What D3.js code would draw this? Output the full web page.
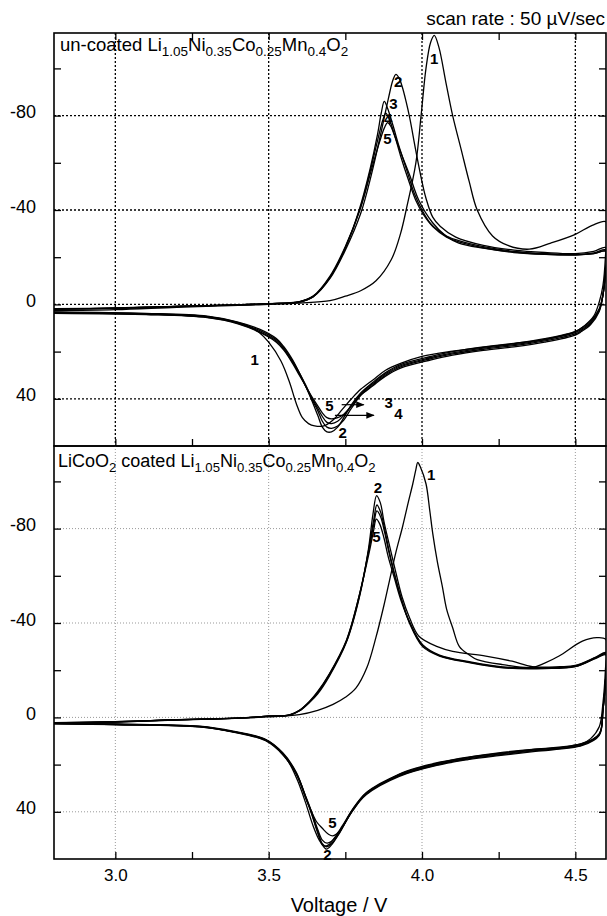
<!DOCTYPE html>
<html lang="en">
<head>
<meta charset="UTF-8" />
<title>Cyclic voltammograms</title>
<script src="https://cdn.jsdelivr.net/npm/d3@7"></script>
<style>
    html, body { margin: 0; background: #fff; }
    svg { display: block; font-family: "Liberation Sans", Arial, sans-serif; }
</style>
</head>
<body>
<div id="chart"></div>
<script>
// ---- data (voltage V, current) ----
const xTicks = [3.0, 3.25, 3.5, 3.75, 4.0, 4.25, 4.5];
const xLabels = [3.0, 3.5, 4.0, 4.5];
const yTicks = [-100, -80, -60, -40, -20, 0, 20, 40];
const yLabels = [-80, -40, 0, 40];

// un-coated panel
const top1 = [[2.8,2.6],[3.0,2.2],[3.2,1.2],[3.4,0.4],[3.5,0],[3.6,-0.6],[3.7,-1.6],[3.75,-3.5],[3.8,-5.8],[3.85,-10],[3.9,-19],[3.93,-30],[3.95,-41],[3.98,-60],[3.997,-80],[4.013,-100],[4.028,-111],[4.04,-114],[4.055,-109],[4.078,-94],[4.1,-80],[4.127,-66],[4.154,-52],[4.18,-40],[4.23,-29],[4.28,-25],[4.35,-23.4],[4.42,-26],[4.5,-29.7],[4.555,-33.5],[4.6,-35],
  [4.598,-20],[4.59,-8],[4.578,-1],[4.56,5],[4.53,9],[4.5,11.5],[4.4,14.8],[4.3,16.6],[4.2,18.2],[4.1,19.8],[4.0,22],[3.93,25],[3.88,28],[3.84,32],[3.8,36],[3.77,40],[3.74,44.5],[3.71,49],[3.68,51.5],[3.65,51.5],[3.63,50.5],[3.61,48],[3.59,42],[3.568,33],[3.54,24],[3.5,16],[3.47,12],[3.43,9],[3.38,7],[3.3,5.2],[3.2,4.5],[3.0,3.8],[2.8,3.4]];
const top2 = [[2.8,1.8],[3.0,1.5],[3.2,0.8],[3.4,0.2],[3.5,-0.3],[3.6,-1.0],[3.645,-3.2],[3.7,-11],[3.75,-23],[3.8,-38.5],[3.835,-55],[3.865,-72],[3.89,-87],[3.905,-95],[3.915,-97.5],[3.925,-96],[3.936,-92],[3.948,-86],[3.96,-79],[3.98,-65],[4.0,-52],[4.013,-45],[4.035,-37],[4.06,-33],[4.11,-28.5],[4.2,-25],[4.3,-23],[4.4,-22],[4.5,-21.5],[4.56,-22.5],[4.6,-24],
  [4.597,-12],[4.59,-4],[4.578,2],[4.55,7],[4.52,10],[4.5,11.5],[4.4,14.5],[4.3,16.5],[4.2,18],[4.1,20],[4.03,22],[3.93,25.5],[3.88,29],[3.84,33],[3.8,37.5],[3.77,42.5],[3.745,48],[3.725,52],[3.705,54],[3.69,54],[3.675,52],[3.66,47],[3.64,40.5],[3.62,34.5],[3.6,29],[3.578,23.5],[3.55,18],[3.525,14.5],[3.47,10.5],[3.4,7.5],[3.3,5],[3.1,3.8],[2.8,3.2]];
const top3 = [[2.8,1.9],[3.0,1.6],[3.2,0.8],[3.4,0.2],[3.5,-0.3],[3.6,-1.1],[3.645,-3.4],[3.7,-11.5],[3.75,-24],[3.795,-40],[3.83,-57],[3.855,-72],[3.867,-81],[3.877,-86],[3.888,-83],[3.905,-76],[3.925,-67],[3.95,-57],[3.975,-47],[4.0,-40],[4.03,-34],[4.08,-29],[4.12,-27],[4.2,-24.5],[4.3,-22.5],[4.4,-21.5],[4.5,-21],[4.56,-21.5],[4.6,-22.5],
  [4.597,-12],[4.59,-4],[4.578,2],[4.55,7.5],[4.52,10.5],[4.5,12],[4.4,15],[4.3,17],[4.2,18.5],[4.1,20.5],[4.03,22.5],[3.93,26],[3.88,29.5],[3.84,33.5],[3.8,38],[3.77,43],[3.745,47],[3.725,49.5],[3.705,50.5],[3.69,50],[3.675,47.5],[3.66,44],[3.64,39.5],[3.62,34],[3.6,29],[3.578,24],[3.55,18.5],[3.525,15],[3.47,11],[3.4,7.8],[3.3,5.2],[3.1,4],[2.8,3.4]];
const top4 = [[2.8,2.0],[3.0,1.6],[3.2,0.9],[3.4,0.2],[3.5,-0.3],[3.6,-1.1],[3.645,-3.3],[3.7,-11.5],[3.75,-24],[3.797,-40],[3.832,-57],[3.858,-71],[3.872,-78],[3.882,-81],[3.893,-78.5],[3.91,-72],[3.93,-63],[3.955,-53],[3.98,-44],[4.005,-38],[4.035,-33],[4.08,-28.5],[4.12,-26.5],[4.2,-24],[4.3,-22.2],[4.4,-21.3],[4.5,-21],[4.56,-21.8],[4.6,-23],
  [4.597,-12],[4.59,-4],[4.578,2.5],[4.55,8],[4.52,11],[4.5,12.5],[4.4,15.5],[4.3,17.5],[4.2,19],[4.1,21],[4.03,23],[3.93,26.5],[3.88,30],[3.84,34],[3.8,38.5],[3.77,44],[3.745,49],[3.725,51.5],[3.705,52.5],[3.69,52],[3.675,49.5],[3.66,45],[3.64,40],[3.62,34.5],[3.6,29.5],[3.578,24.5],[3.55,19],[3.525,15.5],[3.47,11.5],[3.4,8],[3.3,5.5],[3.1,4.2],[2.8,3.6]];
const top5 = [[2.8,2.1],[3.0,1.7],[3.2,0.9],[3.4,0.2],[3.5,-0.3],[3.6,-1.2],[3.645,-3.5],[3.7,-12],[3.75,-24.5],[3.8,-41],[3.835,-57],[3.862,-69],[3.878,-75],[3.888,-77],[3.898,-75.5],[3.912,-71],[3.926,-66],[3.959,-55],[3.99,-44],[4.034,-34.7],[4.078,-29],[4.12,-26],[4.2,-23.8],[4.3,-22],[4.4,-21.2],[4.5,-21],[4.56,-21.5],[4.6,-22.5],
  [4.597,-12],[4.59,-4],[4.578,3],[4.55,8.5],[4.52,11.5],[4.5,13],[4.4,16],[4.3,18],[4.2,19.5],[4.1,21.5],[4.03,23.5],[3.93,27],[3.88,30.5],[3.84,34.5],[3.8,38.5],[3.77,43],[3.745,46.5],[3.725,48],[3.705,48.5],[3.69,48],[3.675,46],[3.66,43],[3.64,39],[3.62,34.5],[3.6,30],[3.578,25],[3.55,19.5],[3.525,16],[3.47,11.8],[3.4,8.2],[3.3,5.6],[3.1,4.3],[2.8,3.8]];

// LiCoO2 coated panel
const bot1 = [[2.8,2.5],[3.0,2],[3.2,1],[3.4,0.3],[3.5,-0.2],[3.6,-1.2],[3.66,-3],[3.71,-5.5],[3.75,-8.5],[3.785,-12.5],[3.82,-21],[3.85,-34],[3.875,-47],[3.894,-58],[3.915,-70],[3.937,-81],[3.955,-91],[3.97,-99],[3.98,-105],[3.986,-108],[3.995,-106],[4.013,-99],[4.025,-88],[4.035,-78],[4.05,-66],[4.067,-55],[4.08,-46],[4.1,-38],[4.122,-30],[4.154,-26.5],[4.18,-24.5],[4.263,-22.4],[4.36,-21.2],[4.4,-23],[4.447,-26],[4.523,-32.3],[4.57,-33.8],[4.6,-33],
  [4.598,-20],[4.59,-6],[4.578,4],[4.55,9],[4.523,11],[4.45,12.8],[4.37,13.5],[4.25,15],[4.15,16.8],[4.057,19],[3.98,21.5],[3.926,24],[3.87,28],[3.818,32],[3.774,39],[3.74,46],[3.715,51],[3.695,54],[3.68,54.5],[3.665,52],[3.645,46],[3.62,36],[3.595,27],[3.57,20],[3.54,14.5],[3.49,9.5],[3.384,6],[3.275,4],[3.0,3],[2.8,2.6]];
const bot2 = [[2.8,2.2],[3.0,1.8],[3.2,1],[3.4,0.3],[3.5,-0.5],[3.568,-1],[3.6,-2.7],[3.633,-6.3],[3.66,-10],[3.698,-17.5],[3.753,-31.7],[3.796,-51],[3.825,-71],[3.84,-86],[3.852,-94],[3.864,-91],[3.876,-83],[3.89,-75],[3.91,-64],[3.935,-51],[3.96,-42],[3.99,-34.4],[4.05,-30],[4.1,-28],[4.208,-26],[4.294,-23.8],[4.36,-21.5],[4.45,-21.5],[4.5,-22],[4.567,-25.5],[4.6,-27.5],
  [4.598,-15],[4.59,-3],[4.578,7],[4.523,11],[4.37,13.5],[4.25,15.3],[4.15,17],[4.057,19.2],[3.926,24.1],[3.818,31.9],[3.774,38.9],[3.731,48.8],[3.705,54],[3.688,55.8],[3.675,54],[3.66,49],[3.64,41],[3.623,34.7],[3.59,23.3],[3.546,15],[3.49,9.3],[3.384,5.8],[3.275,3.7],[3.0,2.8],[2.8,2.4]];
const bot3 = [[2.8,2.3],[3.0,1.8],[3.2,1],[3.4,0.3],[3.5,-0.5],[3.568,-1],[3.6,-2.8],[3.633,-6.5],[3.66,-10.5],[3.698,-18],[3.753,-32],[3.796,-51.5],[3.826,-71],[3.843,-84],[3.853,-90],[3.865,-87],[3.878,-80],[3.892,-71],[3.91,-61],[3.933,-50],[3.959,-40],[4.002,-30],[4.057,-26],[4.154,-23.2],[4.263,-21],[4.4,-20.7],[4.5,-21.5],[4.567,-25],[4.6,-26.5],
  [4.598,-15],[4.59,-3],[4.578,7],[4.523,11.3],[4.37,13.8],[4.25,15.6],[4.15,17.3],[4.057,19.5],[3.926,24.4],[3.818,32.2],[3.774,39.2],[3.731,49],[3.705,53.5],[3.688,54.8],[3.675,53.5],[3.66,48.5],[3.64,40.5],[3.623,34.5],[3.59,23.6],[3.546,15.3],[3.49,9.5],[3.384,6],[3.275,3.8],[3.0,2.9],[2.8,2.5]];
const bot4 = [[2.8,2.4],[3.0,1.9],[3.2,1],[3.4,0.3],[3.5,-0.5],[3.568,-1.1],[3.6,-2.9],[3.633,-6.6],[3.66,-10.6],[3.698,-18.2],[3.753,-32.3],[3.796,-52],[3.827,-71],[3.843,-82],[3.853,-87.5],[3.865,-85],[3.878,-78.5],[3.892,-70],[3.91,-60.5],[3.933,-50],[3.959,-40.5],[4.002,-30.5],[4.057,-26.2],[4.154,-23.4],[4.263,-21.2],[4.4,-20.9],[4.5,-21.6],[4.567,-25.2],[4.6,-26.8],
  [4.598,-15],[4.59,-3],[4.578,7.3],[4.523,11.6],[4.37,14.1],[4.25,15.9],[4.15,17.6],[4.057,19.8],[3.926,24.7],[3.818,32.5],[3.774,39.5],[3.731,48.5],[3.705,52.5],[3.69,53.3],[3.675,52],[3.66,47.5],[3.64,40],[3.623,34.2],[3.59,23.8],[3.546,15.6],[3.49,9.7],[3.384,6.1],[3.275,3.9],[3.0,3.0],[2.8,2.6]];
const bot5 = [[2.8,2.5],[3.0,2.0],[3.2,1.1],[3.4,0.3],[3.5,-0.5],[3.568,-1.1],[3.6,-3],[3.633,-6.8],[3.66,-11],[3.698,-18.5],[3.753,-32.5],[3.796,-52],[3.828,-70],[3.842,-79],[3.851,-84],[3.862,-82],[3.876,-76],[3.89,-68],[3.91,-59],[3.933,-49],[3.959,-40.5],[4.002,-30.8],[4.057,-26.4],[4.154,-23.6],[4.263,-21.4],[4.4,-21.1],[4.5,-21.8],[4.567,-25.4],[4.6,-27],
  [4.598,-15],[4.59,-3],[4.578,7.6],[4.523,11.9],[4.37,14.4],[4.25,16.2],[4.15,17.9],[4.057,20.1],[3.926,25],[3.818,32.8],[3.774,39.5],[3.74,46.5],[3.72,49.5],[3.709,50.2],[3.695,49.5],[3.675,47],[3.655,44],[3.635,38.5],[3.62,34],[3.59,24],[3.546,15.8],[3.49,9.9],[3.384,6.2],[3.275,4],[3.0,3.1],[2.8,2.7]];

// cycle-number annotations [V, current, text]
const topNotes = [[4.040,-104,"1"],[3.922,-94.3,"2"],[3.907,-85,"3"],[3.890,-78.6,"4"],[3.887,-70.5,"5"],
  [3.454,23.4,"1"],[3.698,42.9,"5"],[3.741,54.4,"2"],[3.891,41.6,"3"],[3.923,46.3,"4"]];
const topArrows = [[3.738,3.81,42.5],[3.716,3.843,47]];
const botNotes = [[4.03,-102.8,"1"],[3.856,-97.5,"2"],[3.851,-76.6,"5"],[3.708,44.4,"5"],[3.692,58,"2"]];

// ---- layout ----
const W = 607, H = 916;
const left = 54, right = 606;
const panels = [
    { top: 33, bottom: 446, cycles: [top1, top2, top3, top4, top5], notes: topNotes, arrows: topArrows,
      gridColor: "#000", gridDash: "2,2", gridWidth: 1.3, topTicks: true },
    { top: 446, bottom: 859, cycles: [bot1, bot2, bot3, bot4, bot5], notes: botNotes, arrows: [],
      gridColor: "#999", gridDash: "1,2", gridWidth: 1, topTicks: false }
];

const svg = d3.select("#chart").append("svg").attr("width", W).attr("height", H);
svg.append("rect").attr("width", W).attr("height", H).attr("fill", "#fff");

const x = d3.scaleLinear().domain([2.8, 4.6]).range([left, right]);

svg.append("defs").append("marker")
    .attr("id", "arrow").attr("viewBox", "0 0 10 10").attr("refX", 9).attr("refY", 5)
    .attr("markerWidth", 7).attr("markerHeight", 7).attr("orient", "auto")
    .append("path").attr("d", "M0,1L10,5L0,9z").attr("fill", "#000");

panels.forEach((p, i) => {
    const y = d3.scaleLinear().domain([-115, 60]).range([p.top, p.bottom]);
    const g = svg.append("g");

    // grid
    g.selectAll(".gx").data(xLabels).join("line")
        .attr("x1", d => x(d)).attr("x2", d => x(d)).attr("y1", p.top).attr("y2", p.bottom)
        .attr("stroke", p.gridColor).attr("stroke-width", p.gridWidth).attr("stroke-dasharray", p.gridDash);
    g.selectAll(".gy").data(yLabels).join("line")
        .attr("x1", left).attr("x2", right).attr("y1", d => y(d)).attr("y2", d => y(d))
        .attr("stroke", p.gridColor).attr("stroke-width", p.gridWidth).attr("stroke-dasharray", p.gridDash);

    // curves
    g.append("clipPath").attr("id", "clip" + i).append("rect")
        .attr("x", left).attr("y", p.top).attr("width", right - left).attr("height", p.bottom - p.top);
    const line = d3.line().x(d => x(d[0])).y(d => y(d[1])).curve(d3.curveCatmullRom.alpha(0.5));
    g.append("g").attr("clip-path", `url(#clip${i})`)
        .selectAll("path").data(p.cycles).join("path")
        .attr("d", line).attr("fill", "none").attr("stroke", "#000").attr("stroke-width", 1.3);

    // axes
    const yAxis = d3.axisLeft(y).tickValues(yTicks).tickSize(-7).tickPadding(18)
        .tickFormat(d => yLabels.includes(d) ? d : "");
    const ya = g.append("g").attr("transform", `translate(${left},0)`).call(yAxis);
    ya.select(".domain").remove();
    ya.selectAll("text").attr("font-size", 18).attr("dy", "0.12em").attr("font-family", "Liberation Sans, Arial, sans-serif");
    ya.selectAll("line").attr("stroke-width", 1.3);

    const yRight = g.append("g").attr("transform", `translate(${right},0)`)
        .call(d3.axisRight(y).tickValues(yTicks).tickSize(-7).tickFormat(""));
    yRight.select(".domain").remove();
    yRight.selectAll("line").attr("stroke-width", 1.3);

    const xb = g.append("g").attr("transform", `translate(0,${p.bottom})`)
        .call(d3.axisBottom(x).tickValues(xTicks).tickSize(-7).tickPadding(10)
            .tickFormat(d => (i === 1 && xLabels.includes(d)) ? d3.format(".1f")(d) : ""));
    xb.select(".domain").remove();
    xb.selectAll("line").attr("stroke-width", 1.3);
    xb.selectAll("text").attr("font-size", 17).attr("font-family", "Liberation Sans, Arial, sans-serif");

    if (p.topTicks) {
        const xt = g.append("g").attr("transform", `translate(0,${p.top})`)
            .call(d3.axisTop(x).tickValues(xTicks).tickSize(-7).tickFormat(""));
        xt.select(".domain").remove();
        xt.selectAll("line").attr("stroke-width", 1.3);
    }

    g.append("rect").attr("x", left).attr("y", p.top).attr("width", right - left).attr("height", p.bottom - p.top)
        .attr("fill", "none").attr("stroke", "#000").attr("stroke-width", 1.6);

    // annotations
    g.selectAll(".note").data(p.notes).join("text")
        .attr("x", d => x(d[0])).attr("y", d => y(d[1]))
        .attr("text-anchor", "middle").attr("dominant-baseline", "central")
        .attr("font-size", 15).attr("font-weight", "bold").text(d => d[2]);
    g.selectAll(".arr").data(p.arrows).join("line")
        .attr("x1", d => x(d[0])).attr("x2", d => x(d[1])).attr("y1", d => y(d[2])).attr("y2", d => y(d[2]))
        .attr("stroke", "#000").attr("stroke-width", 1.2).attr("marker-end", "url(#arrow)");
});

// formula titles: subscripts shift down 5px, following text shifts back
function formula(tx, ty, parts, size) {
    const t = svg.append("text").attr("x", tx).attr("y", ty).attr("font-size", size);
    let low = false;
    parts.forEach(([s, sub]) => {
        const span = t.append("tspan").text(s);
        if (sub) {
            span.attr("font-size", size * 0.73);
            if (!low) span.attr("dy", 5);
            low = true;
        } else {
            if (low) span.attr("dy", -5);
            low = false;
        }
    });
}
formula(60, 51, [["un-coated Li"], ["1.05", 1], ["Ni"], ["0.35", 1], ["Co"], ["0.25", 1], ["Mn"], ["0.4", 1], ["O"], ["2", 1]], 18.5);
formula(58, 467, [["LiCoO"], ["2", 1], [" coated Li"], ["1.05", 1], ["Ni"], ["0.35", 1], ["Co"], ["0.25", 1], ["Mn"], ["0.4", 1], ["O"], ["2", 1]], 18);

svg.append("text").attr("x", 605).attr("y", 25).attr("text-anchor", "end").attr("font-size", 19)
    .text("scan rate : 50 µV/sec");
svg.append("text").attr("x", 339).attr("y", 912).attr("text-anchor", "middle").attr("font-size", 20)
    .text("Voltage / V");
</script>
</body>
</html>
